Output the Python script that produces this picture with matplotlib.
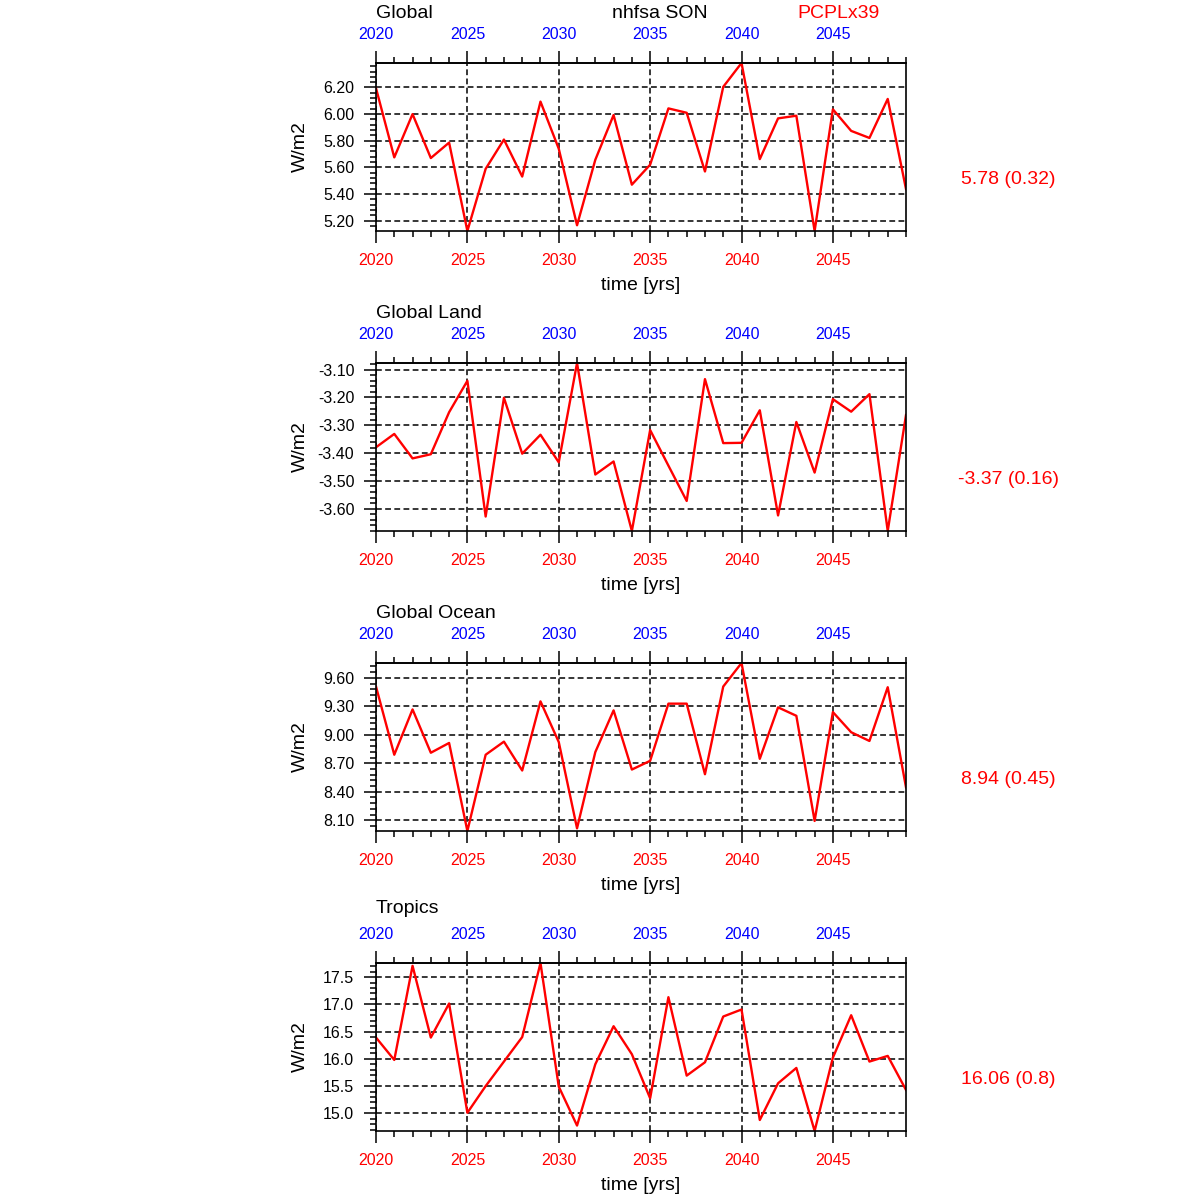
"""Area-mean nhfsa SON time series, four regions stacked."""

import matplotlib
matplotlib.use("Agg")
import matplotlib.pyplot as plt
from matplotlib.ticker import MultipleLocator, FormatStrFormatter

plt.rcParams['font.family'] = ['Liberation Sans', 'DejaVu Sans']

# Data
years = list(range(2020, 2050))

global_vals = [6.195, 5.675, 6.000, 5.670, 5.786, 5.122, 5.589, 5.809, 5.531, 6.094,
               5.740, 5.165, 5.657, 5.993, 5.470, 5.620, 6.043, 6.010, 5.569, 6.205,
               6.384, 5.662, 5.968, 5.988, 5.122, 6.036, 5.874, 5.821, 6.114, 5.437]

land_vals = [-3.379, -3.331, -3.419, -3.404, -3.253, -3.140, -3.628, -3.201, -3.402, -3.334,
             -3.433, -3.076, -3.477, -3.430, -3.680, -3.317, -3.445, -3.572, -3.134, -3.364,
             -3.363, -3.246, -3.624, -3.288, -3.470, -3.206, -3.251, -3.188, -3.680, -3.263]

ocean_vals = [9.508, 8.790, 9.267, 8.811, 8.914, 7.987, 8.790, 8.928, 8.624, 9.352,
              8.924, 8.015, 8.818, 9.257, 8.634, 8.726, 9.328, 9.328, 8.585, 9.508,
              9.756, 8.747, 9.289, 9.200, 8.093, 9.239, 9.027, 8.935, 9.501, 8.447]

tropics_vals = [16.391, 15.980, 17.708, 16.391, 17.016, 15.010, 15.500, 15.950, 16.400, 17.760,
                15.490, 14.775, 15.901, 16.599, 16.085, 15.276, 17.132, 15.692, 15.937, 16.777,
                16.906, 14.877, 15.551, 15.833, 14.675, 16.023, 16.801, 15.950, 16.054, 15.429]

region_names = ["Global", "Global Land", "Global Ocean", "Tropics"]
region_series = [global_vals, land_vals, ocean_vals, tropics_vals]
stat_labels = ["5.78 (0.32)", "-3.37 (0.16)", "8.94 (0.45)", "16.06 (0.8)"]
y_major = [0.2, 0.1, 0.3, 0.5]
y_minor = [0.04, 0.02, 0.06, 0.1]
y_fmt = ["%.2f", "%.2f", "%.2f", "%.1f"]

W, H = 1200, 1200
fig = plt.figure(figsize=(12, 12), dpi=100)

# axes box in pixels (left, width, height) and vertical spacing between panels
ax_left, ax_w, ax_h = 376, 530, 168
first_top, step = 63, 300
title_gap = [45.5, 45.5, 45.5, 50]   # px from axes top to the title baseline
tick_size = 11.5


def style_xaxis(axis):
  """Major ticks every 5 yrs, minor every year."""
  axis.set_major_locator(MultipleLocator(5))
  axis.set_minor_locator(MultipleLocator(1))
  axis.set_major_formatter(FormatStrFormatter("%d"))


for i, (name, vals) in enumerate(zip(region_names, region_series)):
  top = first_top + i * step
  ax = fig.add_axes([ax_left / W, 1 - (top + ax_h) / H, ax_w / W, ax_h / H])

  ax.plot(years, vals, color="red", linewidth=1.7)
  ax.set_xlim(2020, 2049)
  ax.set_ylim(min(vals), max(vals))

  # bottom x axis (red labels)
  style_xaxis(ax.xaxis)
  ax.tick_params(axis="x", which="both", direction="out", top=False, bottom=True,
                 labelcolor="red", labelsize=tick_size, pad=7.5, width=1.1)
  ax.tick_params(axis="x", which="major", length=8.6)
  ax.tick_params(axis="x", which="minor", length=4.3)

  # top x axis (blue labels)
  secax = ax.secondary_xaxis("top")
  style_xaxis(secax.xaxis)
  secax.tick_params(axis="x", which="both", direction="out",
                    labelcolor="blue", labelsize=tick_size, pad=6.5, width=1.1)
  secax.tick_params(axis="x", which="major", length=8.6)
  secax.tick_params(axis="x", which="minor", length=4.3)
  secax.spines["top"].set_linewidth(1.2)

  # y axis
  ax.yaxis.set_major_locator(MultipleLocator(y_major[i]))
  ax.yaxis.set_minor_locator(MultipleLocator(y_minor[i]))
  ax.yaxis.set_major_formatter(FormatStrFormatter(y_fmt[i]))
  ax.tick_params(axis="y", which="both", direction="out", right=False,
                 labelsize=tick_size, pad=7, width=1.1)
  ax.tick_params(axis="y", which="major", length=8.6)
  ax.tick_params(axis="y", which="minor", length=4.3)

  for sp in ax.spines.values():
    sp.set_linewidth(1.2)

  ax.grid(True, which="major", color="black", linestyle=(0, (3.8, 2.2)), linewidth=1.1)

  # labels and strings
  title_y = (ax_h + title_gap[i]) / ax_h
  ax.text(0, title_y, name, transform=ax.transAxes,
          fontsize=14, ha="left", va="baseline")
  ax.text(0.5, -55 / ax_h, "time [yrs]", transform=ax.transAxes,
          fontsize=14, ha="center", va="center")
  ax.text(-76 / ax_w, 0.5, "W/m2", transform=ax.transAxes, rotation=90,
          fontsize=14, ha="center", va="center")
  ax.text((1008 - ax_left) / ax_w, 52 / ax_h, stat_labels[i], transform=ax.transAxes,
          fontsize=14, color="red", ha="center", va="center")

  if i == 0:
    ax.text((660 - ax_left) / ax_w, title_y, "nhfsa SON",
            transform=ax.transAxes, fontsize=14, ha="center", va="baseline")
    ax.text((880 - ax_left) / ax_w, title_y, "PCPLx39",
            transform=ax.transAxes, fontsize=14, color="red", ha="right", va="baseline")

fig.savefig("out.png", dpi=100, facecolor="white")
